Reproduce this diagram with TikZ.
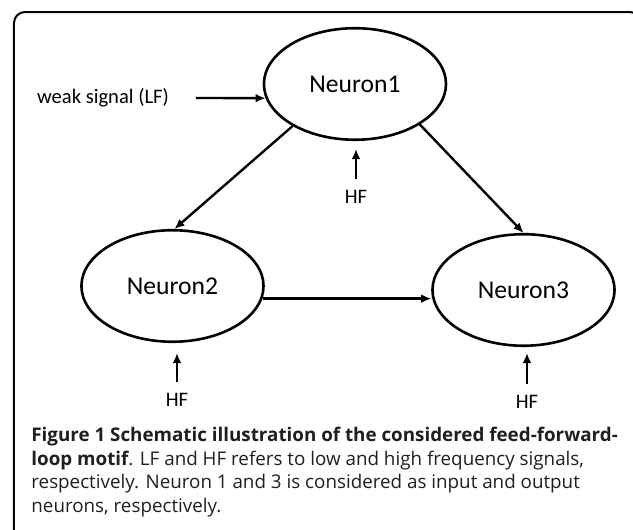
\documentclass[tikz,border=0pt]{standalone}
\usepackage{fontspec}
\usepackage{tikz}
\usetikzlibrary{shapes.geometric}
\usetikzlibrary{arrows.meta}
\newfontfamily\lblfont{Carlito}
\newfontfamily\capfont{Open Sans}
\begin{document}
\begin{tikzpicture}
\par
\tikzstyle{neuron}=[draw, ellipse, line width=1.3pt, minimum width=3.2cm, minimum height=1.96cm, inner sep=0pt, font=\lblfont\fontsize{12.8}{14}\selectfont]
\tikzstyle{sig}=[font=\lblfont\fontsize{10.3}{12}\selectfont]
\tikzstyle{estim}=[line width=1.2pt, -{Latex[length=5pt,width=4.4pt]}]
\clip (0,0) rectangle (11.124,9.314) ;
\draw[line width=1pt, rounded corners=5.5pt] (0.246,-0.3) -- (0.246,9.103) -- (11.264,9.103) -- (11.264,-0.3) ;
\par
\node (n1) at (6.238,7.838) [neuron]{Neuron1} ;
\node (n2) at (3.031,4.288) [neuron]{Neuron2} ;
\node (n3) at (9.200,4.218) [neuron]{Neuron3} ;
\par
\node (weak) at (1.810,7.592) [sig]{weak signal (LF)} ;
\node (hf1) at (6.256,5.852) [sig]{HF} ;
\node (hf2) at (3.110,2.284) [sig]{HF} ;
\node (hf3) at (9.261,2.249) [sig]{HF} ;
\par
\draw[estim] ([xshift=0.35cm]weak.east) -- (n1.189) ;
\draw[estim] (n1.214) -- (n2.88) ;
\draw[estim] (n1.328) -- (n3.north) ;
\draw[estim] (n2.352) -- (n2.352 -| n3.west) ;
\draw[estim] ([yshift=2pt]hf1.north) -- ([yshift=-4pt]hf1.north |- n1.south) ;
\draw[estim] ([yshift=2pt]hf2.north) -- ([yshift=-5pt]hf2.north |- n2.south) ;
\draw[estim] ([yshift=2pt]hf3.north) -- ([yshift=-3pt]hf3.north |- n3.south) ;
\par
\node (cap) at (0.545,0.308) [anchor=base west, align=left, inner sep=0pt, text=black!88, font=\capfont\fontsize{9.4}{11.75}\selectfont]
  {\textbf{Figure 1 Schematic illustration of the considered feed-forward-}\\
   \textbf{loop motif}. LF and HF refers to low and high frequency signals,\\
   respectively. Neuron 1 and 3 is considered as input and output\\
   neurons, respectively.} ;
\par
\end{tikzpicture}
\end{document}
